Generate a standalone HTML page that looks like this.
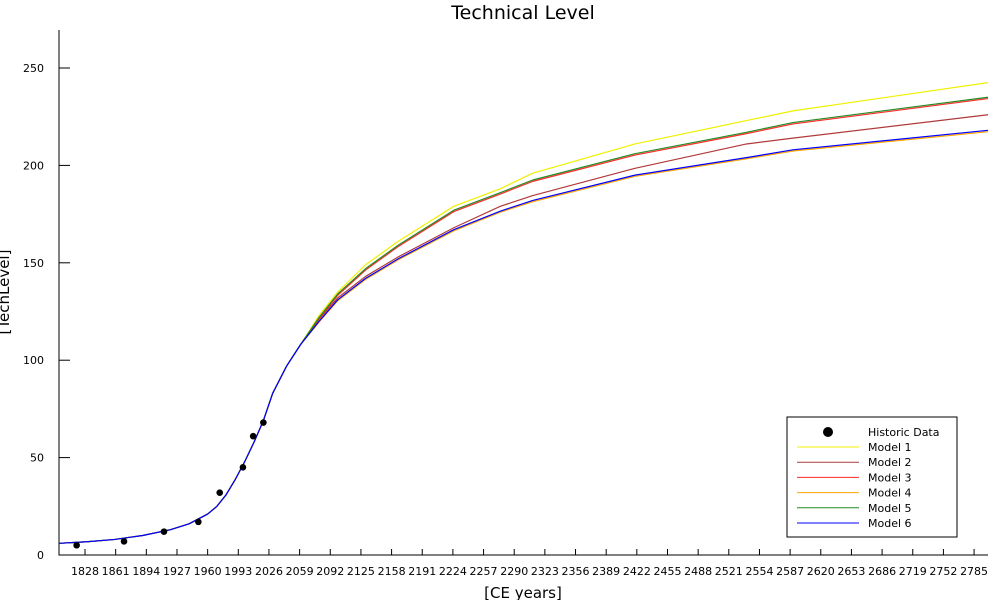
<!DOCTYPE html>
<html><head><meta charset="utf-8"><style>
body{margin:0;background:#fff;font-family:"Liberation Sans","DejaVu Sans",sans-serif}
svg text{font-family:"DejaVu Sans","Liberation Sans",sans-serif}
</style></head><body>
<svg id="chart" width="1000" height="600" xmlns="http://www.w3.org/2000/svg"></svg>
<script>
const years=[1800,1830,1860,1890,1920,1940,1960,1970,1980,1990,2000,2010,2020,2030,2045,2060,2080,2100,2130,2165,2225,2275,2310,2420,2540,2590,2800];
const base=[6,6.8,8,10,13,16,21,25,31,39,48,58,69,83,97,108];
const model1=base.concat([123,135,149,161,179,188,196,211,223,228,242.5]);
const model2=base.concat([121,132,143,153,168,179,184.5,198.5,211,214,226]);
const model3=base.concat([121.5,133.3,146.3,158.3,176.3,185.3,191.8,205.3,216.3,221.3,234.3]);
const model4=base.concat([119.6,130.5,141.5,151.5,166.4,176,181.4,194.4,203.4,207.4,217.3]);
const model5=base.concat([122,134,147,159,177,186,192.5,206,217,222,235]);
const model6=base.concat([120,131,142,152,167,176.5,182,195,204,208,218]);
const histYears=[1819,1870,1913,1950,1973,1998,2009,2020];
const histVals=[5,7,12,17,32,45,61,68];
const xTicks=[1828,1861,1894,1927,1960,1993,2026,2059,2092,2125,2158,2191,2224,2257,2290,2323,2356,2389,2422,2455,2488,2521,2554,2587,2620,2653,2686,2719,2752,2785];
const yTicks=[0,50,100,150,200,250];
const models=[["Model 1",model1,"#f0f000"],["Model 2",model2,"#b03a3a"],["Model 3",model3,"#ff2a2a"],["Model 4",model4,"#ffa500"],["Model 5",model5,"#228b22"],["Model 6",model6,"#0000ff"]];
const X0=59,X1=988,Y0=555,Y1=30;
const xs=y=>X0+(y-1800)/1000*(X1-X0);
const ys=v=>Y0-v*(487/250);
const svg=document.getElementById('chart');
const NS="http://www.w3.org/2000/svg";
function mk(t,a,p){const e=document.createElementNS(NS,t);for(const k in a)e.setAttribute(k,a[k]);(p||svg).appendChild(e);return e;}
let t=mk('text',{x:523,y:19,'text-anchor':'middle','font-size':19});t.textContent="Technical Level";


t=mk('text',{x:523,y:598,'text-anchor':'middle','font-size':15});t.textContent="[CE years]";


t=mk('text',{x:0,y:0,'text-anchor':'middle','font-size':15,transform:'translate(9,292) rotate(-90)'});t.textContent="[TechLevel]";


let ax=mk('path',{d:`M${X0} ${Y1}V${Y0}H${X1}`,stroke:'#000',fill:'none','stroke-width':1});


xTicks.forEach(v=>{const x=xs(v);mk('line',{x1:x,x2:x,y1:Y0,y2:Y0-6,stroke:'#000'});
 const l=mk('text',{x:x,y:575,'text-anchor':'middle','font-size':11});l.textContent=v;
 
 });
yTicks.forEach(v=>{const y=ys(v);mk('line',{x1:X0,x2:X0+11,y1:y,y2:y,stroke:'#000'});
 const l=mk('text',{x:44,y:y+4,'text-anchor':'end','font-size':11});l.textContent=v;
 
 });
models.forEach(m=>{const p=mk('polyline',{points:years.map((y,i)=>xs(y)+','+ys(m[1][i])).join(' '),fill:'none',stroke:m[2],'stroke-width':1.2,'stroke-linejoin':'round'});
 
 });
histYears.forEach((y,i)=>{const c=mk('circle',{cx:xs(y),cy:ys(histVals[i]),r:3.3,fill:'#000'});
 
 });
const lg=mk('g',{});


mk('rect',{x:787,y:417,width:170,height:120,fill:'#fff',stroke:'#000'},lg);
mk('circle',{cx:828,cy:432,r:5,fill:'#000'},lg);
let lt=mk('text',{x:868,y:436,'font-size':11},lg);lt.textContent="Historic Data";
models.forEach((m,i)=>{const y=447+i*15.2;mk('line',{x1:797,x2:859,y1:y,y2:y,stroke:m[2]},lg);
 const e=mk('text',{x:868,y:y+4,'font-size':11},lg);e.textContent=m[0];
 
 });
</script>
</body></html>
